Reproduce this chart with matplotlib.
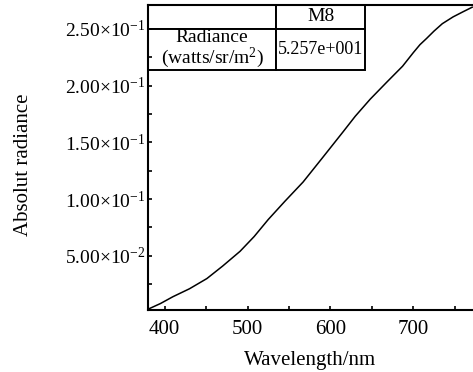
import matplotlib
matplotlib.use("Agg")
import matplotlib.pyplot as plt
from matplotlib.ticker import FixedLocator, MultipleLocator

plt.rcParams["font.family"] = ["Liberation Serif", "DejaVu Serif"]
plt.rcParams["mathtext.fontset"] = "custom"
plt.rcParams["mathtext.rm"] = "Liberation Serif"
plt.rcParams["mathtext.it"] = "Liberation Serif:italic"

# data
wavelength = [380, 395, 410, 430, 451, 470, 491, 508, 525, 545, 567, 590, 615, 630, 648, 668, 687, 700, 708, 716, 725, 735, 748, 760, 771]
radiance = [0.003, 0.008, 0.014, 0.021, 0.030, 0.041, 0.054, 0.067, 0.082, 0.098, 0.115, 0.136, 0.159, 0.173, 0.188, 0.203, 0.217, 0.229, 0.236, 0.2415, 0.248, 0.2545, 0.2605, 0.265, 0.269]

yticks = [0.05, 0.10, 0.15, 0.20, 0.25]
ytick_labels = [r"5.00$\times$10$^{-2}$", r"1.00$\times$10$^{-1}$", r"1.50$\times$10$^{-1}$",
                r"2.00$\times$10$^{-1}$", r"2.50$\times$10$^{-1}$"]
xticks = [400, 500, 600, 700]

table_rows = [["", "M8"], ["Radiance\n(watts/sr/m$^2$)", "5.257e+001"]]

fig = plt.figure(figsize=(4.73, 3.72), dpi=100)
ax = fig.add_axes([0.313, 0.167, 0.687, 0.82])

ax.plot(wavelength, radiance, color="black", lw=1.1)

ax.set_xlim(380, 772)
ax.set_ylim(0.0024, 0.2711)
ax.set_xticks(xticks)
ax.xaxis.set_minor_locator(MultipleLocator(50))
ax.set_yticks(yticks)
ax.set_yticklabels(ytick_labels)
ax.yaxis.set_minor_locator(FixedLocator([0.025, 0.075, 0.125, 0.175, 0.225]))
ax.tick_params(which="both", direction="in", width=1.2, length=3)
ax.tick_params(axis="y", labelsize=14, pad=2)
ax.tick_params(axis="x", labelsize=15, pad=7)

for s in ["left", "bottom", "top"]:
    ax.spines[s].set_linewidth(1.5)
ax.spines["right"].set_visible(False)

ax.set_xlabel("Wavelength/nm", fontsize=15, labelpad=9)
ax.set_ylabel("Absolut radiance", fontsize=15, labelpad=23)
ax.yaxis.label.set_y(0.475)

tab = ax.table(cellText=table_rows, cellLoc="center", colWidths=[0.394, 0.274],
               bbox=[0, 0.787, 0.668, 0.213])
tab.auto_set_font_size(False)
tab.set_fontsize(14)
for (r, c), cell in tab.get_celld().items():
    cell.set_linewidth(1.4)
    cell.set_height(0.24 if r == 0 else 0.41)
    cell.PAD = 0.02
    cell.get_text().set_linespacing(0.95)
tab[1, 1].get_text().set_fontsize(13)

fig.savefig("out.png", dpi=100)
